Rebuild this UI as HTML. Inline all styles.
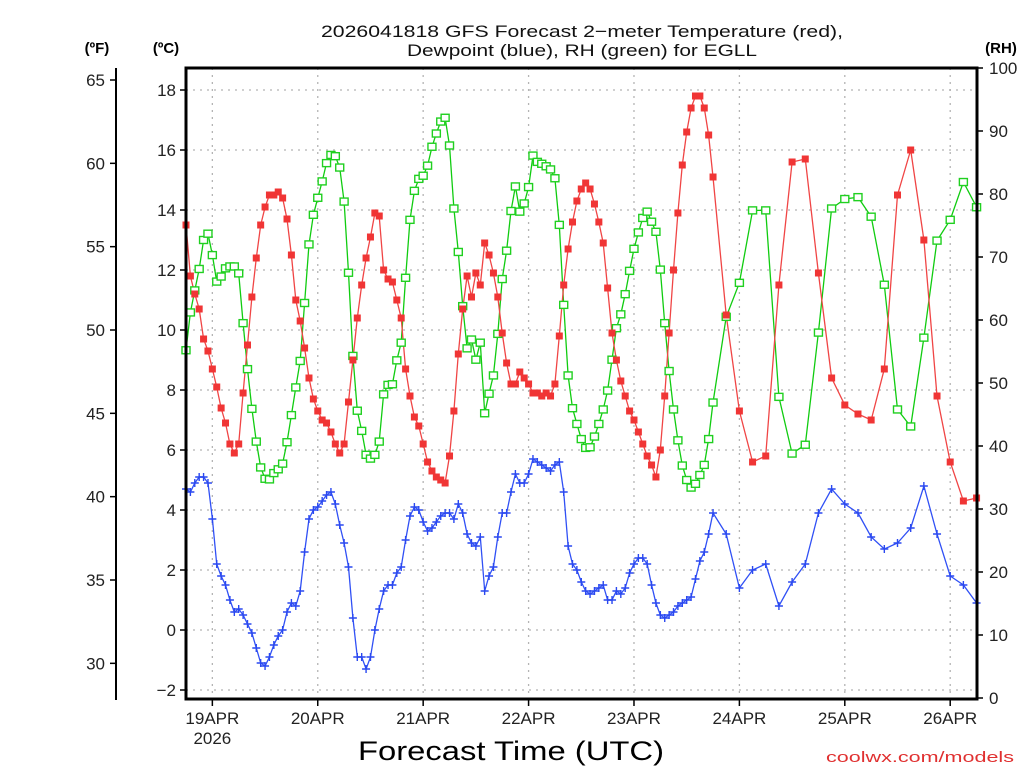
<!DOCTYPE html>
<html><head><meta charset="utf-8"><style>
html,body{margin:0;padding:0;background:#fff;}
svg{display:block;}
text{font-family:"Liberation Sans","DejaVu Sans",sans-serif;}
</style></head>
<body>
<svg id="chart" width="1024" height="768" viewBox="0 0 1024 768" xmlns="http://www.w3.org/2000/svg">
<rect width="1024" height="768" fill="#fff"/>
<text x="582" y="37" text-anchor="middle" font-size="17" fill="#111" textLength="522" lengthAdjust="spacingAndGlyphs">2026041818 GFS Forecast 2−meter Temperature (red),</text>
<text x="582" y="56" text-anchor="middle" font-size="17" fill="#111" textLength="350" lengthAdjust="spacingAndGlyphs">Dewpoint (blue), RH (green) for EGLL</text>
<text x="97" y="53" text-anchor="middle" font-size="15" font-weight="bold" fill="#000">(ºF)</text>
<text x="166" y="53" text-anchor="middle" font-size="15" font-weight="bold" fill="#000">(ºC)</text>
<text x="1001" y="53" text-anchor="middle" font-size="15" font-weight="bold" fill="#000">(RH)</text>
<text x="511" y="760" text-anchor="middle" font-size="27" fill="#000" textLength="306" lengthAdjust="spacingAndGlyphs">Forecast Time (UTC)</text>
<text x="920" y="762" text-anchor="middle" font-size="15" fill="#e03030" textLength="188" lengthAdjust="spacingAndGlyphs">coolwx.com/models</text>
<g id="grid"></g>
<g id="axes"></g>
<g id="series"></g>
<rect x="186" y="68" width="791" height="631" fill="none" stroke="#000" stroke-width="3"/>
</svg>
<script>
// ---- data ----
const hours = [];
for (let h = 0; h <= 120; h++) hours.push(h);
for (let h = 123; h <= 180; h += 3) hours.push(h);
const dayTicks = ["19APR","20APR","21APR","22APR","23APR","24APR","25APR","26APR"];
const dayTickHours = [6,30,54,78,102,126,150,174];
const celsiusTicks = [-2,0,2,4,6,8,10,12,14,16,18];
const fahrenheitTicks = [30,35,40,45,50,55,60,65];
const rhTicks = [0,10,20,30,40,50,60,70,80,90,100];
const temp = [13.5,11.8,11.2,10.7,9.7,9.3,8.7,8.1,7.4,6.9, 6.2,5.9,6.2,7.9,9.5,11.1,12.4,13.5,14.1,14.5,
 14.5,14.6,14.4,13.7,12.5,11.0,10.3,9.4,8.4,7.7, 7.3,7.0,6.9,6.6,6.2,5.9,6.2,7.6,9.0,10.4,
 11.5,12.4,13.1,13.9,13.8,12.0,11.7,11.6,11.0,10.4, 8.7,7.8,7.1,6.8,6.2,5.6,5.3,5.1,5.0,4.9,
 5.8,7.3,9.2,10.7,11.8,11.1,11.9,11.5,12.9,12.5, 11.9,11.1,9.9,8.9,8.2,8.2,8.6,8.4,8.2,7.9,
 7.9,7.8,7.9,7.8,8.2,9.8,11.5,12.7,13.6,14.3, 14.7,14.9,14.7,14.2,13.6,12.9,11.4,9.9,9.0,8.3,
 7.8,7.3,7.0,6.6,6.2,5.8,5.5,5.1,6.0,7.8, 9.9,12.0,13.9,15.5,16.6,17.4,17.8,17.8,17.4,16.5,
 15.1,
 10.5,7.3,5.6,5.8,11.5,15.6,15.7,11.9,8.4,7.5, 7.2,7.0,8.7,14.5,16.0,13.0,7.8,5.6,4.3,4.4];
const dewpoint = [4.7,4.6,4.9,5.1,5.1,4.9,3.7,2.2,1.8,1.5, 1.0,0.6,0.7,0.5,0.2,-0.1,-0.6,-1.1,-1.2,-0.9,
 -0.5,-0.2,0.0,0.6,0.9,0.8,1.3,2.6,3.7,4.0, 4.1,4.3,4.5,4.6,4.2,3.5,2.9,2.1,0.4,-0.9,
 -0.9,-1.3,-0.9,0.0,0.7,1.3,1.5,1.5,1.9,2.1, 3.0,3.8,4.1,4.0,3.6,3.3,3.4,3.6,3.8,3.9,
 3.9,3.7,4.2,3.9,3.2,2.9,2.8,3.1,1.3,1.8, 2.1,3.1,3.9,3.9,4.6,5.2,4.9,4.9,5.2,5.7,
 5.6,5.5,5.4,5.3,5.5,5.6,4.6,2.8,2.2,2.0, 1.6,1.3,1.2,1.3,1.4,1.5,1.0,1.0,1.3,1.2,
 1.4,1.9,2.2,2.4,2.4,2.2,1.5,0.9,0.5,0.4, 0.5,0.6,0.8,0.9,1.0,1.1,1.7,2.3,2.6,3.2,
 3.9,
 3.2,1.4,2.0,2.2,0.8,1.6,2.2,3.9,4.7,4.2, 3.9,3.1,2.7,2.9,3.4,4.8,3.2,1.8,1.5,0.9];
const rh = [55.2,61.2,64.7,68.1,72.7,73.7,70.3,66.1,66.9,68.2, 68.5,68.5,67.4,59.5,52.2,45.9,40.7,36.6,34.8,34.7,
 35.7,36.3,37.2,40.6,44.9,49.3,53.5,62.7,72.0,76.7, 79.4,82.0,84.9,86.2,86.0,84.2,78.8,67.5,54.3,45.6,
 42.4,38.6,38.0,38.6,40.7,48.2,49.7,49.8,53.6,56.4, 66.7,75.9,80.5,82.4,82.9,84.5,87.5,89.6,91.5,92.1,
 87.7,77.7,70.8,62.2,55.5,56.9,53.7,56.4,45.2,48.3, 51.2,57.8,66.5,71.0,77.3,81.2,77.2,78.5,81.1,86.1,
 85.1,84.8,84.4,83.9,82.5,75.1,62.4,51.2,46.0,43.5, 41.1,39.7,39.8,41.5,43.5,45.8,48.8,53.7,58.7,60.9,
 64.1,67.8,71.3,73.9,76.2,77.2,75.6,74.0,68.0,59.5, 51.9,45.8,40.9,36.9,34.6,33.4,34.0,35.4,37.0,41.1,
 46.9,
 60.5,65.9,77.4,77.4,47.8,38.8,40.2,58.0,77.7,79.2, 79.5,76.4,65.6,45.8,43.1,57.2,72.6,75.9,81.9,77.9];

// ---- scales ----
const NS = "http://www.w3.org/2000/svg";
function xS(h){ return 186 + h * 4.392; }
function yC(c){ return 690 - (c + 2) * 30; }
function yF(f){ return yC((f - 32) * 5 / 9); }
function yR(r){ return 698 - r * 6.3; }
function mk(tag, attrs, parent){
  const e = document.createElementNS(NS, tag);
  for (const k in attrs) e.setAttribute(k, attrs[k]);
  parent.appendChild(e);
  return e;
}
const grid = document.getElementById('grid');
const axes = document.getElementById('axes');
const series = document.getElementById('series');

// gridlines
celsiusTicks.forEach(c => {
  const l = mk('line', {x1:186, x2:977, y1:yC(c), y2:yC(c), stroke:'#b4b4b4', 'stroke-width':1.3, 'stroke-dasharray':'2,5'}, grid);
  
  
});
dayTickHours.forEach(h => {
  const l = mk('line', {x1:xS(h), x2:xS(h), y1:68, y2:699, stroke:'#b4b4b4', 'stroke-width':1.3, 'stroke-dasharray':'2,5'}, grid);
  
  
});

// celsius axis
celsiusTicks.forEach(c => {
  const t = mk('line', {x1:180, x2:186, y1:yC(c), y2:yC(c), stroke:'#000', 'stroke-width':1.5}, axes);
  
  
  const tx = mk('text', {x:176, y:yC(c)+6, 'text-anchor':'end', 'font-size':17, fill:'#222'}, axes);
  tx.textContent = c < 0 ? '\u2212' + Math.abs(c) : String(c);
  
  
});
// fahrenheit axis
const fl = mk('line', {x1:116, x2:116, y1:68, y2:700, stroke:'#000', 'stroke-width':2}, axes);


fahrenheitTicks.forEach(f => {
  const t = mk('line', {x1:110, x2:116, y1:yF(f), y2:yF(f), stroke:'#000', 'stroke-width':1.5}, axes);
  
  
  const tx = mk('text', {x:105, y:yF(f)+6, 'text-anchor':'end', 'font-size':17, fill:'#222'}, axes);
  tx.textContent = String(f);
  
  
});
// rh axis
rhTicks.forEach(r => {
  const t = mk('line', {x1:977, x2:983, y1:yR(r), y2:yR(r), stroke:'#000', 'stroke-width':1.5}, axes);
  
  
  const tx = mk('text', {x:989, y:yR(r)+6, 'text-anchor':'start', 'font-size':17, fill:'#222'}, axes);
  tx.textContent = String(r);
  
  
});
// x axis
dayTickHours.forEach((h, i) => {
  const t = mk('line', {x1:xS(h), x2:xS(h), y1:699, y2:706, stroke:'#000', 'stroke-width':1.5}, axes);
  
  
  const tx = mk('text', {x:xS(h), y:724, 'text-anchor':'middle', 'font-size':17, fill:'#222'}, axes);
  tx.textContent = dayTicks[i];
  
  
});
const yr = mk('text', {x:xS(6), y:744, 'text-anchor':'middle', 'font-size':17, fill:'#222'}, axes);
yr.textContent = '2026';



// series
function line(vals, yfn, color, name){
  const d = vals.map((v, i) => (i ? 'L' : 'M') + xS(hours[i]).toFixed(1) + ' ' + yfn(v).toFixed(1)).join(' ');
  const p = mk('path', {d:d, fill:'none', stroke:color, 'stroke-width':1.3}, series);
  
  
}
line(rh, yR, '#10cc10', 'rh-line');
line(temp, yC, '#f04545', 'temperature-line');
line(dewpoint, yC, '#3050f5', 'dewpoint-line');

rh.forEach((v, i) => {
  const r = mk('rect', {x:xS(hours[i])-4, y:yR(v)-3.5, width:8, height:7, fill:'#fff', stroke:'#20d020', 'stroke-width':1.4}, series);
  
  
});
temp.forEach((v, i) => {
  const r = mk('rect', {x:xS(hours[i])-3.5, y:yC(v)-3.5, width:7, height:7, fill:'#f03535'}, series);
  
  
});
dewpoint.forEach((v, i) => {
  const x = xS(hours[i]), y = yC(v);
  const p = mk('path', {d:'M'+(x-4)+' '+y+' L'+(x+4)+' '+y+' M'+x+' '+(y-4)+' L'+x+' '+(y+4), stroke:'#2a48f0', 'stroke-width':1.4, fill:'none'}, series);
  
  
});
</script>
</body></html>
